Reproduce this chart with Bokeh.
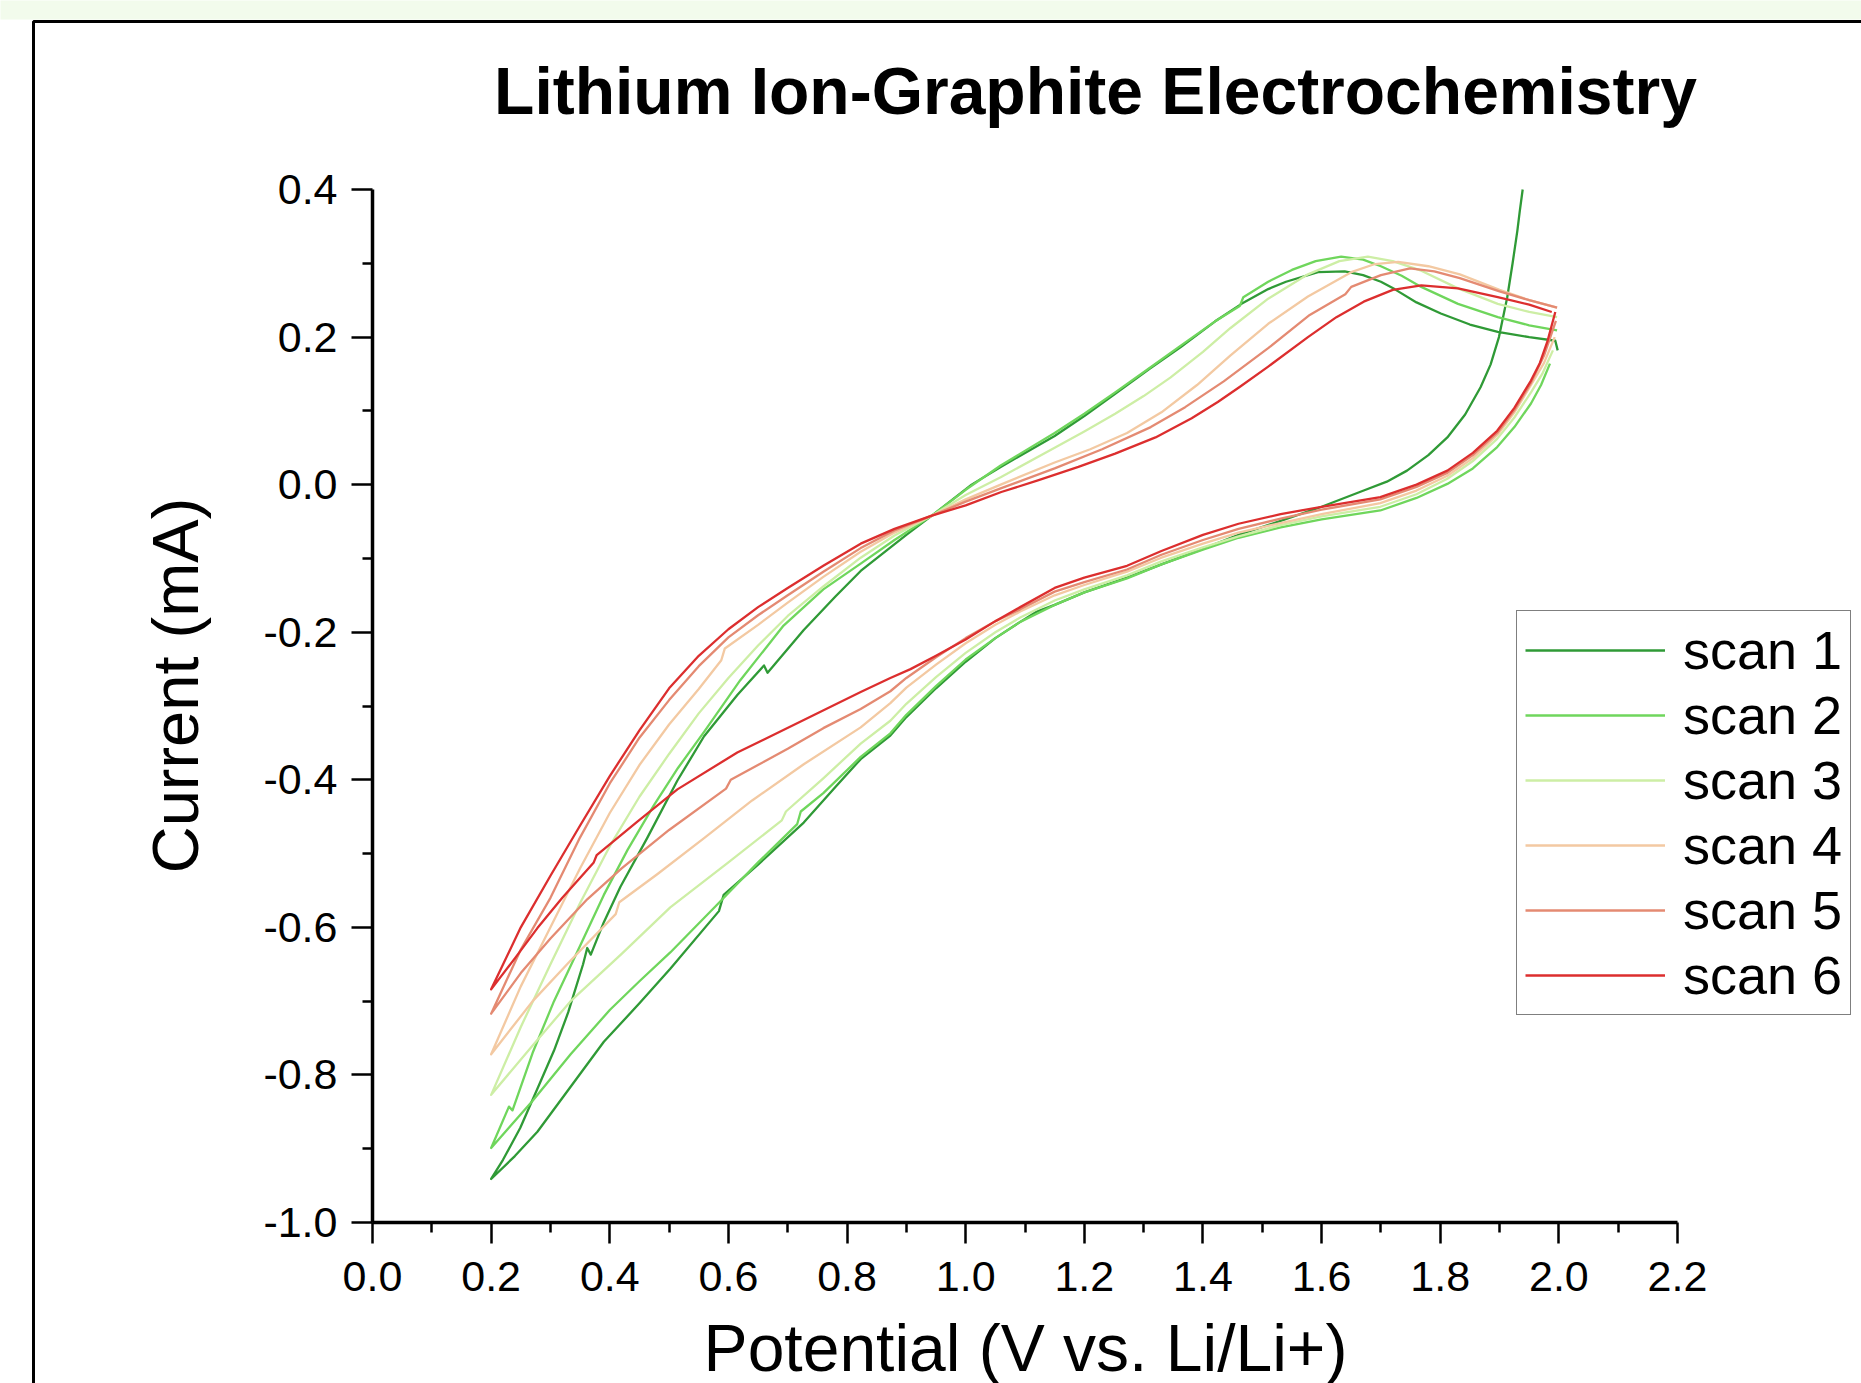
from math import pi

from bokeh.plotting import figure
from bokeh.models import (Range1d, Label, Legend, LegendItem, BoxAnnotation,
                          FixedTicker, PrintfTickFormatter)
from bokeh.embed import file_html
from bokeh.resources import INLINE

# ---- axis ticks -------------------------------------------------------------
x_major = [0.0, 0.2, 0.4, 0.6, 0.8, 1.0, 1.2, 1.4, 1.6, 1.8, 2.0, 2.2]
x_minor = [0.1, 0.3, 0.5, 0.7, 0.9, 1.1, 1.3, 1.5, 1.7, 1.9, 2.1]
y_major = [-1.0, -0.8, -0.6, -0.4, -0.2, 0.0, 0.2, 0.4]
y_minor = [-0.9, -0.7, -0.5, -0.3, -0.1, 0.1, 0.3]

scan_names = ["scan 1", "scan 2", "scan 3", "scan 4", "scan 5", "scan 6"]
scan_colors = ["#2f9a36", "#6fd65c", "#cdeea5", "#f3c9a2", "#e48a72", "#dc2e2e"]

# ---- cyclic voltammograms: cathodic sweep down to 0.2 V, then anodic back to 2.0 V
scan1_potential = [1.939, 1.934, 1.930, 1.922, 1.913, 1.899, 1.885, 1.868, 1.842, 1.812,
                   1.780, 1.744, 1.710, 1.671, 1.600, 1.531, 1.460, 1.400, 1.330, 1.272,
                   1.200, 1.150, 1.120, 1.092, 1.050, 1.000, 0.950, 0.900, 0.873, 0.823,
                   0.780, 0.727, 0.650, 0.592, 0.584, 0.502, 0.450, 0.390, 0.334, 0.278,
                   0.240, 0.200,
                   0.220, 0.249, 0.280, 0.306, 0.330, 0.355, 0.362, 0.368, 0.390, 0.418,
                   0.463, 0.514, 0.559, 0.615, 0.660, 0.666, 0.727, 0.780, 0.823, 0.900,
                   0.943, 1.010, 1.059, 1.150, 1.200, 1.252, 1.310, 1.362, 1.420, 1.465,
                   1.510, 1.540, 1.594, 1.639, 1.670, 1.700, 1.723, 1.760, 1.801, 1.850,
                   1.897, 1.950, 1.994, 1.998]
scan1_current = [0.400, 0.370, 0.344, 0.300, 0.254, 0.200, 0.163, 0.132, 0.095, 0.064,
                 0.040, 0.019, 0.004, -0.008, -0.030, -0.049, -0.068, -0.087, -0.108, -0.126,
                 -0.146, -0.163, -0.172, -0.186, -0.208, -0.240, -0.276, -0.315, -0.340, -0.372,
                 -0.410, -0.458, -0.515, -0.556, -0.578, -0.656, -0.703, -0.755, -0.816, -0.877,
                 -0.910, -0.941,
                 -0.915, -0.872, -0.815, -0.767, -0.715, -0.650, -0.628, -0.637, -0.593, -0.545,
                 -0.479, -0.401, -0.341, -0.285, -0.245, -0.255, -0.197, -0.152, -0.117, -0.068,
                 -0.042, 0.000, 0.024, 0.066, 0.093, 0.123, 0.157, 0.186, 0.221, 0.245,
                 0.265, 0.275, 0.288, 0.289, 0.284, 0.275, 0.265, 0.247, 0.232, 0.217,
                 0.207, 0.200, 0.195, 0.182]

scan2_potential = [1.985, 1.970, 1.953, 1.925, 1.896, 1.855, 1.812, 1.760, 1.699, 1.600,
                   1.531, 1.460, 1.400, 1.330, 1.272, 1.200, 1.150, 1.092, 1.050, 1.000,
                   0.950, 0.900, 0.873, 0.823, 0.760, 0.722, 0.716, 0.650, 0.580, 0.502,
                   0.450, 0.400, 0.334, 0.270, 0.200,
                   0.230, 0.236, 0.270, 0.306, 0.350, 0.390, 0.430, 0.474, 0.515, 0.559,
                   0.620, 0.693, 0.760, 0.823, 0.880, 0.943, 1.000, 1.059, 1.150, 1.200,
                   1.252, 1.310, 1.362, 1.420, 1.462, 1.468, 1.510, 1.550, 1.590, 1.633,
                   1.670, 1.700, 1.735, 1.768, 1.830, 1.897, 1.950, 1.997]
scan2_current = [0.164, 0.135, 0.110, 0.078, 0.051, 0.022, 0.001, -0.018, -0.035, -0.047,
                 -0.058, -0.072, -0.088, -0.108, -0.127, -0.146, -0.163, -0.186, -0.208, -0.237,
                 -0.273, -0.312, -0.337, -0.369, -0.418, -0.443, -0.460, -0.512, -0.570, -0.634,
                 -0.673, -0.712, -0.772, -0.835, -0.899,
                 -0.843, -0.848, -0.770, -0.700, -0.625, -0.556, -0.495, -0.435, -0.384, -0.335,
                 -0.265, -0.191, -0.142, -0.107, -0.075, -0.042, -0.007, 0.026, 0.070, 0.096,
                 0.125, 0.158, 0.188, 0.221, 0.242, 0.254, 0.275, 0.291, 0.303, 0.309,
                 0.305, 0.296, 0.283, 0.268, 0.245, 0.227, 0.216, 0.209]

scan3_potential = [1.990, 1.972, 1.953, 1.925, 1.896, 1.855, 1.812, 1.760, 1.699, 1.600,
                   1.531, 1.460, 1.400, 1.330, 1.272, 1.200, 1.150, 1.092, 1.050, 1.000,
                   0.950, 0.900, 0.873, 0.823, 0.760, 0.697, 0.690, 0.600, 0.502, 0.420,
                   0.334, 0.270, 0.200,
                   0.250, 0.300, 0.350, 0.400, 0.450, 0.500, 0.550, 0.600, 0.650, 0.700,
                   0.760, 0.823, 0.880, 0.943, 1.000, 1.059, 1.150, 1.200, 1.252, 1.300,
                   1.345, 1.400, 1.446, 1.510, 1.577, 1.630, 1.678, 1.720, 1.768, 1.830,
                   1.897, 1.950, 1.997]
scan3_current = [0.182, 0.150, 0.125, 0.091, 0.062, 0.032, 0.008, -0.013, -0.030, -0.043,
                 -0.055, -0.070, -0.085, -0.104, -0.123, -0.142, -0.157, -0.180, -0.200, -0.228,
                 -0.261, -0.297, -0.320, -0.351, -0.398, -0.443, -0.455, -0.512, -0.573, -0.636,
                 -0.700, -0.760, -0.827,
                 -0.735, -0.650, -0.567, -0.490, -0.423, -0.365, -0.310, -0.262, -0.218, -0.178,
                 -0.138, -0.099, -0.069, -0.042, -0.014, 0.010, 0.050, 0.072, 0.096, 0.120,
                 0.145, 0.180, 0.212, 0.252, 0.285, 0.303, 0.309, 0.303, 0.290, 0.266,
                 0.245, 0.234, 0.227]

scan4_potential = [1.993, 1.975, 1.953, 1.925, 1.896, 1.855, 1.812, 1.760, 1.699, 1.600,
                   1.531, 1.460, 1.400, 1.330, 1.272, 1.200, 1.150, 1.092, 1.050, 1.000,
                   0.950, 0.900, 0.873, 0.823, 0.727, 0.640, 0.559, 0.480, 0.416, 0.410,
                   0.334, 0.270, 0.200,
                   0.250, 0.300, 0.350, 0.400, 0.450, 0.500, 0.550, 0.588, 0.594, 0.650,
                   0.700, 0.760, 0.823, 0.880, 0.943, 1.000, 1.059, 1.150, 1.210, 1.272,
                   1.330, 1.390, 1.446, 1.510, 1.577, 1.650, 1.690, 1.729, 1.780, 1.833,
                   1.900, 1.950, 1.997]
scan4_current = [0.200, 0.165, 0.135, 0.098, 0.067, 0.036, 0.012, -0.008, -0.025, -0.040,
                 -0.052, -0.065, -0.080, -0.099, -0.118, -0.136, -0.150, -0.172, -0.190, -0.215,
                 -0.244, -0.275, -0.296, -0.329, -0.379, -0.428, -0.479, -0.528, -0.566, -0.582,
                 -0.645, -0.700, -0.772,
                 -0.680, -0.600, -0.520, -0.445, -0.380, -0.325, -0.277, -0.238, -0.222, -0.190,
                 -0.160, -0.125, -0.091, -0.065, -0.042, -0.020, 0.000, 0.030, 0.048, 0.070,
                 0.098, 0.135, 0.175, 0.218, 0.255, 0.288, 0.299, 0.302, 0.296, 0.285,
                 0.264, 0.250, 0.240]

scan5_potential = [1.995, 1.975, 1.953, 1.925, 1.896, 1.855, 1.812, 1.760, 1.699, 1.600,
                   1.531, 1.460, 1.400, 1.330, 1.272, 1.200, 1.150, 1.092, 1.050, 1.000,
                   0.950, 0.900, 0.873, 0.823, 0.760, 0.700, 0.604, 0.596, 0.500, 0.420,
                   0.362, 0.300, 0.250, 0.200,
                   0.250, 0.300, 0.350, 0.400, 0.450, 0.500, 0.550, 0.600, 0.650, 0.700,
                   0.760, 0.823, 0.880, 0.943, 1.000, 1.059, 1.150, 1.230, 1.312, 1.370,
                   1.435, 1.510, 1.580, 1.640, 1.650, 1.700, 1.749, 1.790, 1.833, 1.900,
                   1.950, 1.997]
scan5_current = [0.222, 0.175, 0.138, 0.101, 0.070, 0.040, 0.016, -0.003, -0.020, -0.034,
                 -0.046, -0.060, -0.075, -0.095, -0.115, -0.132, -0.145, -0.169, -0.185, -0.208,
                 -0.234, -0.262, -0.280, -0.304, -0.330, -0.358, -0.400, -0.412, -0.468, -0.520,
                 -0.562, -0.615, -0.662, -0.717,
                 -0.630, -0.560, -0.478, -0.405, -0.343, -0.292, -0.246, -0.207, -0.177, -0.150,
                 -0.118, -0.086, -0.062, -0.042, -0.023, -0.005, 0.022, 0.048, 0.078, 0.105,
                 0.140, 0.185, 0.230, 0.258, 0.268, 0.284, 0.293, 0.289, 0.280, 0.262,
                 0.250, 0.240]

scan6_potential = [1.994, 1.981, 1.968, 1.953, 1.925, 1.896, 1.855, 1.812, 1.760, 1.699,
                   1.600, 1.531, 1.460, 1.400, 1.330, 1.272, 1.200, 1.150, 1.092, 1.050,
                   1.000, 0.950, 0.907, 0.873, 0.823, 0.727, 0.615, 0.514, 0.446, 0.378,
                   0.373, 0.320, 0.278, 0.240, 0.200,
                   0.250, 0.300, 0.350, 0.400, 0.450, 0.500, 0.550, 0.600, 0.650, 0.700,
                   0.760, 0.823, 0.880, 0.943, 1.000, 1.060, 1.123, 1.190, 1.252, 1.320,
                   1.381, 1.425, 1.463, 1.510, 1.577, 1.625, 1.671, 1.720, 1.768, 1.830,
                   1.897, 1.950, 1.988]
scan6_current = [0.234, 0.195, 0.165, 0.141, 0.104, 0.073, 0.043, 0.019, 0.000, -0.017,
                 -0.030, -0.040, -0.053, -0.068, -0.090, -0.110, -0.126, -0.140, -0.166, -0.185,
                 -0.210, -0.232, -0.250, -0.262, -0.281, -0.319, -0.363, -0.413, -0.457, -0.502,
                 -0.512, -0.560, -0.601, -0.642, -0.684,
                 -0.600, -0.530, -0.462, -0.395, -0.333, -0.276, -0.232, -0.196, -0.166, -0.140,
                 -0.110, -0.080, -0.060, -0.042, -0.028, -0.010, 0.006, 0.024, 0.042, 0.064,
                 0.090, 0.112, 0.133, 0.160, 0.200, 0.227, 0.248, 0.264, 0.270, 0.266,
                 0.254, 0.244, 0.234]

potentials = [scan1_potential, scan2_potential, scan3_potential,
              scan4_potential, scan5_potential, scan6_potential]
currents = [scan1_current, scan2_current, scan3_current,
            scan4_current, scan5_current, scan6_current]

FONT = "Liberation Sans"

# ---- page geometry (pixels) ---------------------------------------------------
W, H = 1861, 1383
AX_LEFT, AX_RIGHT = 372, 1677      # pixel columns of 0.0 V and 2.2 V
AX_TOP, AX_BOTTOM = 189, 1222      # pixel rows of 0.4 mA and -1.0 mA
X0, X1 = 0.0, 2.2
Y0, Y1 = -1.0, 0.4
sx = (AX_RIGHT - AX_LEFT) / (X1 - X0)
sy = (AX_BOTTOM - AX_TOP) / (Y1 - Y0)


def px_x(px):
    return X0 + (px - AX_LEFT) / sx


def px_y(py):
    return Y1 - (py - AX_TOP) / sy


# the frame covers the whole page; the axes sit at fixed data locations inside it
p = figure(width=W, height=H, output_backend="svg", toolbar_location=None, title=None,
           x_range=Range1d(px_x(0), px_x(W)), y_range=Range1d(px_y(H), px_y(0)),
           min_border_left=0, min_border_right=0, min_border_top=0, min_border_bottom=0)
p.background_fill_color = "white"
p.border_fill_color = "white"
p.outline_line_color = None
p.xgrid.visible = False
p.ygrid.visible = False

# ---- page decoration: pale band at the top and the enclosing frame -----------
p.add_layout(BoxAnnotation(left=px_x(-20), right=px_x(W + 20), top=px_y(-20), bottom=px_y(19),
                           fill_color="#f2fbec", fill_alpha=1.0, line_color=None,
                           level="underlay"))
p.add_layout(BoxAnnotation(left=px_x(33), right=px_x(W + 40), top=px_y(21), bottom=px_y(H + 40),
                           fill_alpha=0.0, line_color="black", line_alpha=1.0, line_width=3))

# ---- curves -----------------------------------------------------------------
renderers = []
for xs, ys, color in zip(potentials, currents, scan_colors):
    r = p.line(xs, ys, line_color=color, line_width=2.3, line_join="round")
    renderers.append(r)

# ---- axes -------------------------------------------------------------------
p.xaxis.fixed_location = Y0
p.yaxis.fixed_location = X0
p.xaxis.bounds = (X0, X1)
p.yaxis.bounds = (Y0, Y1)
p.xaxis.ticker = FixedTicker(ticks=x_major, minor_ticks=x_minor)
p.yaxis.ticker = FixedTicker(ticks=y_major, minor_ticks=y_minor)
p.xaxis.formatter = PrintfTickFormatter(format="%.1f")
p.yaxis.formatter = PrintfTickFormatter(format="%.1f")
for ax in (p.xaxis[0], p.yaxis[0]):
    ax.axis_line_color = "black"
    ax.axis_line_width = 3.5
    ax.major_tick_line_color = "black"
    ax.minor_tick_line_color = "black"
    ax.major_tick_line_width = 2.5
    ax.minor_tick_line_width = 2.5
    ax.major_tick_in = 0
    ax.major_tick_out = 21
    ax.minor_tick_in = 0
    ax.minor_tick_out = 10
    ax.major_label_text_font = FONT
    ax.major_label_text_font_size = "43px"
    ax.major_label_text_color = "black"
p.xaxis.major_label_standoff = 18
p.yaxis.major_label_standoff = 14

# ---- texts (anchor rows/columns set so the glyph baselines land where wanted) --
p.add_layout(Label(x=px_x(1095), y=px_y(90), text="Lithium Ion-Graphite Electrochemistry",
                   text_font=FONT, text_font_style="bold", text_font_size="66px",
                   text_align="center", text_baseline="alphabetic", text_color="black"))
p.add_layout(Label(x=px_x(1025), y=px_y(1347), text="Potential (V vs. Li/Li+)",
                   text_font=FONT, text_font_size="66px",
                   text_align="center", text_baseline="alphabetic", text_color="black"))
p.add_layout(Label(x=px_x(175), y=px_y(685), text="Current (mA)", angle=pi / 2,
                   text_font=FONT, text_font_size="65px",
                   text_align="center", text_baseline="alphabetic", text_color="black"))

# ---- legend -----------------------------------------------------------------
legend = Legend(items=[LegendItem(label=n, renderers=[r]) for n, r in zip(scan_names, renderers)],
                location=(1516, H - 1015))
legend.border_line_color = "black"
legend.border_line_width = 1.5
legend.background_fill_color = "white"
legend.background_fill_alpha = 1.0
legend.label_text_font = FONT
legend.label_text_font_size = "54px"
legend.label_text_color = "black"
legend.glyph_width = 140
legend.glyph_height = 62
legend.label_height = 62
legend.spacing = 3
legend.padding = 8
legend.margin = 0
legend.label_standoff = 18
p.add_layout(legend)

open("out.html", "w").write(file_html(p, INLINE))
